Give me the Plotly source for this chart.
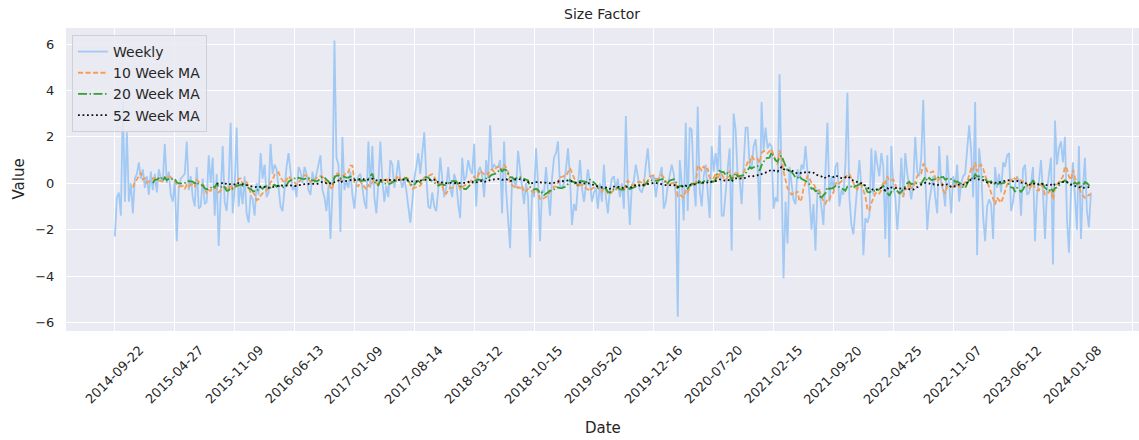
import pandas as pd
import plotly.graph_objects as go

# Weekly size-factor values (one per row/week)
weekly = [
    # rows 0-40
    -2.3, -0.6, -0.4, -1.4, 3.5, -0.8, 2.2, -0.8, 0.0, -1.3,
    0.2, 0.4, 0.9, 0.2, 0.6, -0.2, 0.3, -0.5, 0.5, -0.3,
    0.4, -0.4, 0.6, 0.2, 0.1, 1.7, 0.0, 0.5, -0.5, -0.8,
    0.1, -2.5, -0.2, 0.2, 0.3, 0.4, 1.8, -0.3, 0.3, -0.6, -1.0,
    # rows 41-82
    0.7, -1.1, -1.0, 0.2, -0.9, -0.8, 1.2, 0.0, 1.1, -1.4,
    0.4, -2.7, -0.2, 1.6, -0.8, -1.2, 0.0, 2.6, -1.3, -0.2,
    2.4, -1.0, -0.1, -0.9, 0.3, -1.3, -1.7, -0.5, -0.7, -1.4,
    0.0, -0.5, 1.3, 0.2, 0.8, -0.6, -0.4, 1.7, 0.4, 0.8, 0.6, -0.1,
    # rows 83-125
    -1.0, -1.2, -0.1, 0.7, 1.3, 0.6, -0.3, -0.1, -0.6, 0.7,
    0.5, 0.0, 0.7, 0.4, -0.3, -0.5, 0.5, 0.0, 0.4, 0.7,
    1.2, -0.3, -0.6, -1.2, -0.1, -2.4, -0.4, 6.15, 1.1, 0.8,
    -2.1, 2.0, -0.3, 0.1, -0.2, 0.5, -0.5, -1.1, 0.0, 0.3,
    0.4, -0.2, -0.8,
    # rows 126-167
    -1.1, 1.8, -0.2, 1.6, -0.6, -1.3, 0.0, 1.8, 0.1, -0.8,
    -0.1, -0.6, 1.0, 0.8, -0.2, 0.3, 1.0, 0.2, -0.2, 0.2,
    -0.3, -0.9, -1.7, -0.8, 0.2, 0.7, 1.3, 0.4, 1.3, 2.2,
    0.3, -1.0, -1.1, -0.4, -1.0, -1.2, -0.3, 1.1, 0.2, -0.6,
    -0.2, 0.7,
    # rows 168-210
    -0.2, -0.6, 0.4, 0.1, -0.9, -1.5, 1.1, 0.1, 0.3, 1.0,
    0.6, 0.4, 1.7, -1.0, 0.5, 0.7, 0.3, -0.6, 1.0, 0.2,
    2.5, 0.6, 0.8, 0.7, 0.7, 1.0, -1.3, 1.8, -0.3, -1.7,
    -2.8, 0.3, 0.1, -0.2, 1.4, 0.6, -0.3, -0.9, 0.0, -0.6,
    -3.2, -0.3, -0.6,
    # rows 211-252
    1.5, 0.0, -2.5, -0.3, -0.4, 0.7, -0.3, -1.4, 0.2, 1.1,
    1.3, 1.8, -0.1, -0.2, 0.0, 0.6, 1.5, 0.3, -1.8, -0.9,
    -1.2, 0.0, 1.0, -0.2, -0.8, -0.1, 0.6, 0.0, -0.8, -0.4,
    -0.2, -1.1, 0.0, -0.8, 0.8, -0.6, -1.3, -0.3, 0.2, 0.3,
    -0.3, 0.2,
    # rows 253-295
    -0.6, 0.0, -1.1, 2.9, -0.2, -1.8, -0.1, 0.1, 0.8, 0.3,
    -0.3, -0.4, -0.1, 0.8, 1.5, 0.3, 0.2, 0.3, -0.6, 0.0,
    0.4, 0.7, -1.1, -0.8, -0.1, 0.4, 0.8, 0.4, -0.5, -5.75,
    1.0, 0.0, -1.6, 2.6, -1.2, 2.4, 2.3, 0.0, -1.0, 3.3,
    -0.3, -1.0, 0.3,
    # rows 296-337
    0.8, -0.6, -1.5, 1.6, 0.5, 1.3, 0.5, 2.5, -1.4, -1.4,
    -0.2, 0.6, 1.5, -2.9, 3.0, 2.3, 0.3, 0.2, -0.9, 0.7,
    2.4, 2.4, 0.8, 0.6, 1.6, 1.9, 0.8, -1.6, 3.5, 1.4,
    2.4, 1.5, 1.7, 1.6, -1.1, -0.6, -0.8, 4.7, -0.2, -4.1,
    -0.8, -2.6,
    # rows 338-380
    0.7, -0.1, -0.7, -0.9, 0.6, 0.2, 0.8, 0.6, 1.6, 0.5,
    -0.5, -2.0, -0.9, -2.9, -0.3, -0.3, -1.1, -1.8, 0.5, 2.6,
    -0.8, 0.3, -0.3, 0.7, 0.9, -1.0, -0.3, -0.5, 0.8, 3.9,
    -0.6, -1.8, -2.2, -1.0, 0.0, 1.0, -0.2, -3.1, -1.5, -1.7,
    -1.4, 1.5, -0.5,
    # rows 381-422
    1.4, 0.8, 0.3, 1.3, 0.7, -2.4, 1.2, -3.2, 1.6, -0.1,
    -0.6, -2.0, -0.8, 1.1, -0.6, 1.3, 0.4, -0.1, -0.7, 0.0,
    2.0, 0.5, 0.3, 1.1, 3.6, 0.4, -2.0, -0.8, -0.3, 0.3,
    -0.6, -1.3, 1.6, 0.0, -0.3, -1.0, 1.2, -0.3, -1.3, 0.3,
    -0.2, 0.8,
    # rows 423-465
    -0.8, 0.0, 0.3, 0.4, 1.5, 2.5, 1.4, -0.6, 3.5, -3.1,
    1.5, 0.6, -1.4, -2.5, -1.0, -0.7, -0.9, -2.4, 0.7, -0.2,
    0.4, -0.4, 0.9, 0.7, 1.2, 1.3, -1.2, -0.8, -0.1, 0.3,
    0.1, -1.4, 0.6, 0.8, -0.5, -0.4, 0.0, 0.7, -2.5, -0.5,
    0.1, 1.0, -0.4,
    # rows 466-489
    -2.4, -0.3, 0.3, 1.1, -3.5, 2.7, 0.8, 1.5, 1.8, 0.9,
    2.0, -1.5, -3.0, -0.4, 0.9, -0.4, -2.0, 1.6, -2.4, -0.2,
    1.1, -1.2, -1.9, -0.4,
]

week_index = list(range(len(weekly)))

# x tick labels shown every 30 weeks
tick_labels = [
    "2014-09-22", "2015-04-27", "2015-11-09", "2016-06-13", "2017-01-09",
    "2017-08-14", "2018-03-12", "2018-10-15", "2019-05-20", "2019-12-16",
    "2020-07-20", "2021-02-15", "2021-09-20", "2022-04-25", "2022-11-07",
    "2023-06-12", "2024-01-08",
]
tick_positions = list(range(0, 511, 30))
y_ticks = [-6, -4, -2, 0, 2, 4, 6]

s = pd.Series(weekly)
ma10 = s.rolling(10).mean()
ma20 = s.rolling(20).mean()
ma52 = s.rolling(52).mean()

FONT = "DejaVu Sans"
TXT = "#262626"

fig = go.Figure()
fig.add_trace(go.Scatter(x=week_index, y=weekly, mode="lines", name="Weekly",
                         line=dict(color="#a1c9f4", width=1.8)))
fig.add_trace(go.Scatter(x=week_index, y=ma10, mode="lines", name="10 Week MA",
                         line=dict(color="#f59d56", width=1.8, dash="5px,2.5px")))
fig.add_trace(go.Scatter(x=week_index, y=ma20, mode="lines", name="20 Week MA",
                         line=dict(color="#359e35", width=1.8, dash="9px,2.5px,1.5px,2.5px")))
fig.add_trace(go.Scatter(x=week_index, y=ma52, mode="lines", name="52 Week MA",
                         line=dict(color="#111111", width=1.8, dash="1.8px,2.7px")))

annotations = []
for pos, lab in zip(tick_positions, tick_labels):
    annotations.append(dict(x=pos, y=-0.145, xref="x", yref="paper", text=lab,
                            textangle=-45, showarrow=False, xanchor="center",
                            yanchor="middle", font=dict(family=FONT, size=13, color=TXT)))
annotations.append(dict(x=0.5, y=-0.32, xref="paper", yref="paper", text="Date",
                        showarrow=False, xanchor="center", yanchor="middle",
                        font=dict(family=FONT, size=15, color=TXT)))
annotations.append(dict(x=-0.0447, y=0.5, xref="paper", yref="paper", text="Value",
                        textangle=-90, showarrow=False, xanchor="center", yanchor="middle",
                        font=dict(family=FONT, size=15, color=TXT)))

fig.update_layout(
    width=1139, height=440,
    margin=dict(l=66, r=0, t=28, b=109),
    paper_bgcolor="white", plot_bgcolor="#EAEAF2",
    font=dict(family=FONT, size=13, color=TXT),
    title=dict(text="Size Factor", x=0.5286, xanchor="center", y=0.968, yanchor="middle",
               font=dict(family=FONT, size=14, color=TXT)),
    showlegend=True,
    legend=dict(x=0.0056, y=0.977, xanchor="left", yanchor="top",
                bgcolor="rgba(234,234,242,0.85)", bordercolor="#cfcfd6", borderwidth=1,
                font=dict(family=FONT, size=14, color=TXT), tracegroupgap=0),
    annotations=annotations,
)
fig.update_xaxes(range=[-24.5, 513.1], tickvals=tick_positions, showticklabels=False,
                 showgrid=True, gridcolor="white", gridwidth=1.3, zeroline=False,
                 showline=False, ticks="")
fig.update_yaxes(range=[-6.37, 6.69], tickvals=y_ticks, showgrid=True, gridcolor="white",
                 gridwidth=1.3, zeroline=False, showline=False, ticks="outside",
                 ticklen=8, tickcolor="rgba(0,0,0,0)",
                 tickfont=dict(family=FONT, size=13, color=TXT))

fig.write_html("out.html", config={"displayModeBar": False},
               post_script="document.body.style.margin='0';")
